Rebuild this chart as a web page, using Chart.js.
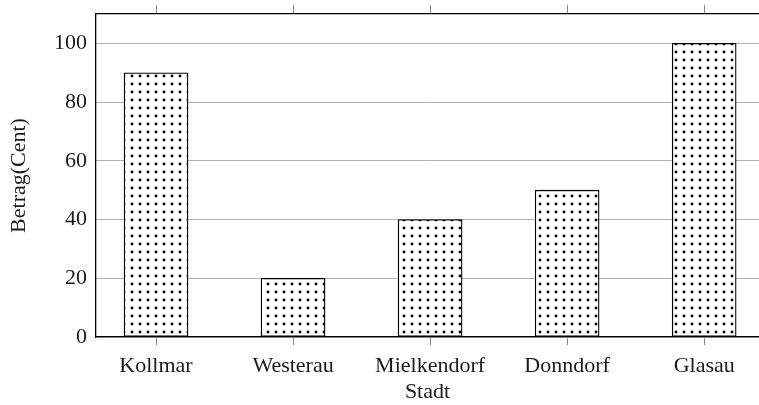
<!DOCTYPE html>
<html lang="de">
<head>
    <meta charset="UTF-8">
    <title>Betrag je Stadt</title>
    <script src="https://cdn.jsdelivr.net/npm/chart.js"></script>
    <style>
        html, body { margin: 0; padding: 0; background: #fff; overflow: hidden; }
        #wrap { width: 759px; height: 405px; }
    </style>
</head>
<body>
    <div id="wrap"><canvas id="chart"></canvas></div>
    <script>
        // Daten
        const staedte = ['Kollmar', 'Westerau', 'Mielkendorf', 'Donndorf', 'Glasau'];
        const betraege = [90, 20, 40, 50, 100];
        const yTicks = [0, 20, 40, 60, 80, 100];

        const FONT = 'Liberation Serif';

        // gepunktetes Muster wie bei pgfplots
        function dotPattern() {
            const c = document.createElement('canvas');
            c.width = 8; c.height = 8;
            const g = c.getContext('2d');
            g.fillStyle = '#fff';
            g.fillRect(0, 0, 8, 8);
            g.fillStyle = '#000';
            g.beginPath();
            g.arc(4, 4, 1.45, 0, Math.PI * 2);
            g.fill();
            return document.getElementById('chart').getContext('2d').createPattern(c, 'repeat');
        }

        const xMin = -0.438, xMax = 4.40;
        const catTicks = scale => { scale.ticks = staedte.map((s, i) => ({ value: i })); };

        new Chart(document.getElementById('chart'), {
            type: 'bar',
            data: {
                datasets: [{
                    data: staedte.map((s, i) => ({ x: i, y: betraege[i] })),
                    backgroundColor: dotPattern(),
                    borderColor: '#000',
                    borderWidth: 1.3,
                    borderSkipped: false,
                    barThickness: 64
                }]
            },
            options: {
                responsive: true,
                maintainAspectRatio: false,
                animation: false,
                layout: { padding: 0 },
                plugins: { legend: { display: false }, tooltip: { enabled: false } },
                scales: {
                    x: {
                        type: 'linear',
                        position: 'bottom',
                        offset: false,
                        min: xMin, max: xMax,
                        afterBuildTicks: catTicks,
                        afterFit: s => { s.height = 68; s.paddingLeft = 0; s.paddingRight = 0; },
                        grid: { offset: false, drawOnChartArea: false, tickLength: 8, color: '#888' },
                        border: { color: '#000', width: 1.3 },
                        ticks: {
                            padding: 8,
                            color: '#1a1a1a',
                            font: { family: FONT, size: 22 },
                            callback: v => staedte[v] ?? ''
                        },
                        title: {
                            display: true, text: 'Stadt', color: '#1a1a1a',
                            font: { family: FONT, size: 22 },
                            padding: { top: 0, bottom: 0 }
                        }
                    },
                    x2: {
                        type: 'linear',
                        position: 'top',
                        offset: false,
                        min: xMin, max: xMax,
                        afterBuildTicks: catTicks,
                        afterFit: s => { s.height = 14; s.paddingLeft = 0; s.paddingRight = 0; },
                        grid: { offset: false, drawOnChartArea: false, tickLength: 9, color: '#888' },
                        border: { color: '#000', width: 1.3 },
                        ticks: { display: false }
                    },
                    y: {
                        min: 0, max: 110,
                        afterBuildTicks: s => { s.ticks = yTicks.map(v => ({ value: v })); },
                        afterFit: s => { s.width = 96; s.paddingTop = 0; s.paddingBottom = 0; },
                        grid: { color: '#b0b0b0', drawTicks: false },
                        border: { color: '#000', width: 1.3 },
                        ticks: {
                            padding: 9,
                            color: '#1a1a1a',
                            font: { family: FONT, size: 22 }
                        },
                        title: {
                            display: true, text: 'Betrag(Cent)', color: '#1a1a1a',
                            font: { family: FONT, size: 22 },
                            padding: { top: 6, bottom: 0 }
                        }
                    }
                }
            }
        });
    </script>
</body>
</html>
